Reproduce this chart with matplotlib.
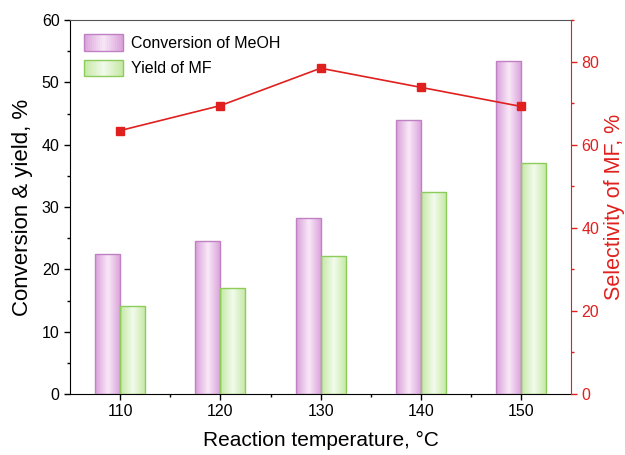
import numpy as np
import matplotlib
matplotlib.use('Agg')
import matplotlib.pyplot as plt
from matplotlib.patches import Rectangle
from matplotlib.legend_handler import HandlerBase
from matplotlib.colors import LinearSegmentedColormap

plt.rcParams['font.family'] = ['Liberation Sans', 'DejaVu Sans']

# Data
temps = [110, 120, 130, 140, 150]
conversion = [22.4, 24.5, 28.2, 44.0, 53.4]
yield_mf = [14.2, 17.0, 22.2, 32.4, 37.0]
selectivity = [63.4, 69.4, 78.4, 73.8, 69.2]

purple_cmap = LinearSegmentedColormap.from_list('p', ['#d9a0da', '#f9e9f8', '#d9a0da'])
green_cmap = LinearSegmentedColormap.from_list('g', ['#c4e8a2', '#f2fbec', '#c4e8a2'])
purple_edge = '#c080c4'
green_edge = '#8ccc5a'
red = '#e0201e'

fig = plt.figure(figsize=(6.25, 4.55), dpi=100)
ax = fig.add_axes([0.112, 0.134, 0.802, 0.822])

grad = np.linspace(0, 1, 64).reshape(1, -1)


def gradient_bars(ax, xs, hs, width, cmap, edge):
    for x, h in zip(xs, hs):
        rect = Rectangle((x - width / 2, 0), width, h, facecolor='none',
                         edgecolor=edge, linewidth=1.0, zorder=3)
        ax.add_patch(rect)
        im = ax.imshow(grad, cmap=cmap, aspect='auto', zorder=2,
                       extent=[x - width / 2, x + width / 2, 0, h])
        im.set_clip_path(rect)


w = 2.5
gradient_bars(ax, [t - w / 2 for t in temps], conversion, w, purple_cmap, purple_edge)
gradient_bars(ax, [t + w / 2 for t in temps], yield_mf, w, green_cmap, green_edge)

ax.set_xlim(105, 155)
ax.set_ylim(0, 60)
ax.set_xticks(temps)
ax.set_xticks([115, 125, 135, 145], minor=True)
ax.set_yticks(range(0, 61, 10))
ax.set_yticks(range(5, 60, 10), minor=True)
ax.tick_params(axis='both', labelsize=11.5, direction='out', length=4, width=1)
ax.tick_params(axis='both', which='minor', direction='out', length=2, width=1)
ax.set_xlabel('Reaction temperature, °C', fontsize=15, labelpad=8)
ax.set_ylabel('Conversion & yield, %', fontsize=16, labelpad=6)
ax.spines['top'].set_color('#555555')
ax.spines['right'].set_visible(False)

ax2 = ax.twinx()
ax2.plot(temps, selectivity, color=red, linewidth=1.2, marker='s',
         markersize=6, markerfacecolor=red, markeredgecolor=red)
ax2.set_ylim(0, 90)
ax2.set_yticks(range(0, 81, 20))
ax2.set_yticks(range(10, 91, 20), minor=True)
ax2.tick_params(axis='y', colors=red, labelsize=11.5, direction='out', length=4, width=1)
ax2.tick_params(axis='y', which='minor', colors=red, direction='out', length=2, width=1)
ax2.set_ylabel('Selectivity of MF, %', fontsize=15.5, color=red, labelpad=3)
ax2.spines['right'].set_color(red)
ax2.spines['top'].set_visible(False)
ax2.spines['left'].set_visible(False)
ax2.spines['bottom'].set_visible(False)


class GradientHandler(HandlerBase):
    def __init__(self, cmap, edge):
        super().__init__()
        self.cmap = cmap
        self.edge = edge

    def create_artists(self, legend, orig_handle, xdescent, ydescent,
                       width, height, fontsize, trans):
        arts = []
        n = 20
        for i in range(n):
            r = Rectangle((-xdescent + width * i / n, -ydescent), width / n + 0.3, height,
                          facecolor=self.cmap((i + 0.5) / n), edgecolor='none',
                          transform=trans)
            arts.append(r)
        arts.append(Rectangle((-xdescent, -ydescent), width, height, facecolor='none',
                              edgecolor=self.edge, linewidth=1.0, transform=trans))
        return arts


h1 = Rectangle((0, 0), 1, 1)
h2 = Rectangle((0, 0), 1, 1)
ax.legend([h1, h2], ['Conversion of MeOH', 'Yield of MF'],
          handler_map={h1: GradientHandler(purple_cmap, purple_edge),
                       h2: GradientHandler(green_cmap, green_edge)},
          loc='upper left', frameon=False, fontsize=11.5,
          handlelength=2.4, handleheight=1.2, handletextpad=0.5,
          labelspacing=0.55, bbox_to_anchor=(0.0, 1.0))

fig.savefig('out.png', dpi=100)
